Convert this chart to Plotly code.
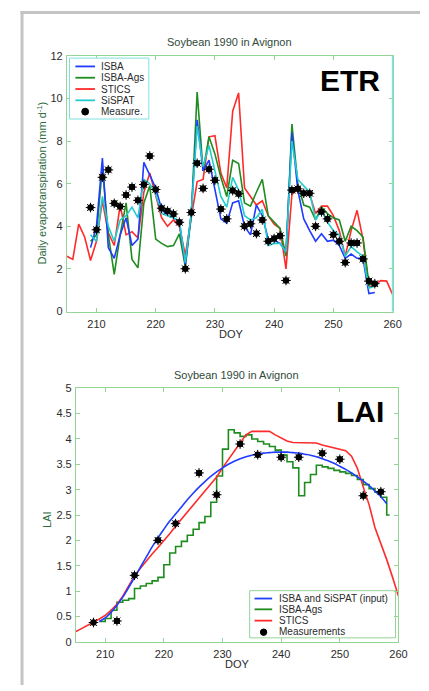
import plotly.graph_objects as go

# ---------------- ETR data ----------------
etr_model_days = list(range(209, 258))
etr_isba = [3.0, 4.0, 7.2, 3.0, 2.5, 3.6, 4.4, 3.1, 3.4, 7.0, 6.4, 5.8, 4.8, 4.5, 4.4, 4.2, 2.2, 4.6,
            9.0, 6.6, 7.1, 5.7, 4.35, 4.15, 5.1, 5.2, 4.0, 3.6, 5.0, 4.5, 3.4, 3.35, 3.2, 2.8,
            8.4, 5.7, 4.35, 3.8, 3.3, 3.65, 3.3, 3.35, 3.1, 2.5, 2.7, 2.5, 2.5, 0.85, 0.9]
etr_isba_ags = [3.3, 3.6, 6.8, 3.6, 1.75, 3.6, 5.1, 2.45, 2.05, 5.1, 5.9, 3.4, 3.2, 3.05, 3.1, 3.65, 2.1, 4.5,
                10.3, 6.6, 8.2, 7.4, 6.3, 5.4, 7.1, 6.95, 5.1, 4.95, 5.6, 6.2, 4.5, 4.2, 3.9, 2.6,
                8.8, 6.0, 5.0, 4.9, 4.3, 4.9, 4.6, 4.4, 4.3, 3.3, 4.0, 3.8, 3.5, 1.3, 1.2]
etr_sispat = [3.6, 3.3, 5.4, 4.0, 3.3, 4.3, 4.5, 4.9, 4.4, 6.2, 6.0, 5.5, 4.6, 4.5, 4.4, 4.25, 2.3, 4.6,
              8.7, 6.8, 7.8, 6.6, 5.4, 4.9, 6.3, 5.7, 4.5, 4.3, 4.4, 4.8, 3.1, 3.2, 3.2, 2.8,
              8.0, 6.2, 5.9, 5.6, 4.3, 4.75, 4.2, 3.8, 3.6, 2.6, 3.05, 2.8, 2.6, 1.1, 1.2]
etr_stics_days = list(range(205, 261))
etr_stics = [2.6, 2.45, 4.1, 3.5, 2.4, 3.3, 5.2, 3.7, 3.1, 5.0, 3.6, 3.75, 3.45, 5.6, 6.5, 5.5, 4.4, 4.0,
             4.3, 4.0, 2.65, 4.4, 6.1, 6.2, 8.2, 8.25, 6.5, 5.8, 9.4, 10.26, 5.8, 5.4, 5.0, 5.2,
             4.5, 4.1, 3.9, 2.0, 5.5, 5.75, 5.6, 5.5, 4.6, 4.95, 4.95, 4.5, 3.8, 2.6, 3.8, 4.75,
             3.4, 1.15, 1.25, 1.45, 1.43, 0.8]
etr_meas_days = list(range(209, 258))
etr_meas = [4.88, 3.84, 6.3, 6.65, 5.08, 4.93, 5.47, 5.84, 5.22, 5.96, 7.3, 5.73, 4.85, 4.72, 4.58, 4.19,
            2.01, 4.65, 6.96, 5.78, 6.68, 6.16, 4.81, 4.35, 5.68, 5.53, 4.0, 4.12, 3.66, 4.3, 3.3,
            3.43, 3.56, 1.46, 5.7, 5.76, 5.55, 5.55, 4.0, 4.68, 4.35, 3.61, 3.3, 2.3, 3.22, 3.22,
            2.47, 1.43, 1.31]

# ---------------- LAI data ----------------
lai_blue_days = list(range(209, 259))
lai_blue = [0.40, 0.47, 0.58, 0.72, 0.88, 1.07, 1.27, 1.47, 1.67, 1.87, 2.05, 2.22, 2.38, 2.52, 2.66,
            2.80, 2.93, 3.05, 3.16, 3.26, 3.35, 3.43, 3.50, 3.56, 3.61, 3.65, 3.68, 3.70, 3.72, 3.73,
            3.74, 3.74, 3.74, 3.73, 3.72, 3.70, 3.68, 3.65, 3.61, 3.57, 3.52, 3.46, 3.40, 3.33, 3.25,
            3.17, 3.08, 2.97, 2.86, 2.72]
lai_green_days = list(range(209, 259)) + [258.5]
lai_green = [0.40, 0.46, 0.62, 0.78, 0.82, 0.85, 1.05, 1.10, 1.15, 1.20, 1.27, 1.52, 1.75, 1.88, 1.98,
             2.10, 2.22, 2.35, 2.47, 2.75, 3.27, 3.80, 4.18, 4.12, 4.05, 4.08, 4.00, 3.95, 3.90, 3.85,
             3.78, 3.68, 3.55, 3.43, 2.88, 3.14, 3.30, 3.48, 3.45, 3.42, 3.38, 3.35, 3.32, 3.28, 3.20,
             3.10, 3.02, 2.95, 2.85, 2.50, 2.50]
lai_red_days = list(range(205, 261))
lai_red = [0.20, 0.26, 0.32, 0.38, 0.45, 0.52, 0.62, 0.74, 0.90, 1.10, 1.30, 1.45, 1.60, 1.73, 1.86,
           1.99, 2.13, 2.28, 2.42, 2.55, 2.68, 2.82, 2.96, 3.10, 3.25, 3.43, 3.60, 3.76, 3.92, 4.08,
           4.15, 4.15, 4.15, 4.15, 4.08, 4.02, 3.96, 3.93, 3.93, 3.93, 3.93, 3.92, 3.88, 3.85, 3.82,
           3.80, 3.77, 3.66, 3.42, 3.05, 2.70, 2.25, 1.95, 1.62, 1.27, 0.90]
lai_meas_days = [208, 212, 215, 219, 222, 226, 229, 233, 236, 240, 243, 247, 250, 254, 257]
lai_meas = [0.38, 0.41, 1.31, 2.0, 2.33, 3.33, 2.9, 3.9, 3.69, 3.64, 3.64, 3.72, 3.6, 2.88, 2.96]

etr_xticks = [210, 220, 230, 240, 250, 260]
etr_yticks = [0, 2, 4, 6, 8, 10, 12]
lai_xticks = [210, 220, 230, 240, 250, 260]
lai_yticks = [0, 0.5, 1, 1.5, 2, 2.5, 3, 3.5, 4, 4.5, 5]
lai_ytext = ["0", "0.5", "1", "1.5", "2", "2.5", "3", "3.5", "4", "4.5", "5"]

W, H = 429, 691
def fx(px):
    return px / W
def fy(py):
    return 1 - py / H

BLUE = "#1f3cff"
GREEN = "#1e8c1e"
RED = "#ff2a2a"
CYAN = "#22cccc"
AXG = "#94d494"
AXC = "#7fe0e0"
TXT = "#2b2b2b"
FONT = "Liberation Sans, Arial, sans-serif"
LW = 1.6

fig = go.Figure()

def add_meas(x, y, xa, ya):
    fig.add_trace(go.Scatter(x=x, y=y, mode="markers", xaxis=xa, yaxis=ya, showlegend=False,
                             marker=dict(symbol="circle", size=6.5, color="black")))
    fig.add_trace(go.Scatter(x=x, y=y, mode="markers", xaxis=xa, yaxis=ya, showlegend=False,
                             marker=dict(symbol="asterisk-open", size=8, color="black",
                                         line=dict(width=1, color="black"))))

# ETR traces
fig.add_trace(go.Scatter(x=etr_stics_days, y=etr_stics, mode="lines", line=dict(color=RED, width=LW),
                         xaxis="x", yaxis="y", showlegend=False))
fig.add_trace(go.Scatter(x=etr_model_days, y=etr_isba_ags, mode="lines", line=dict(color=GREEN, width=LW),
                         xaxis="x", yaxis="y", showlegend=False))
fig.add_trace(go.Scatter(x=etr_model_days, y=etr_isba, mode="lines", line=dict(color=BLUE, width=LW),
                         xaxis="x", yaxis="y", showlegend=False))
fig.add_trace(go.Scatter(x=etr_model_days, y=etr_sispat, mode="lines", line=dict(color=CYAN, width=LW),
                         xaxis="x", yaxis="y", showlegend=False))
add_meas(etr_meas_days, etr_meas, "x", "y")

# LAI traces
fig.add_trace(go.Scatter(x=lai_green_days, y=lai_green, mode="lines", line=dict(color=GREEN, width=LW, shape="hv"),
                         xaxis="x2", yaxis="y2", showlegend=False))
fig.add_trace(go.Scatter(x=lai_red_days, y=lai_red, mode="lines", line=dict(color=RED, width=LW),
                         xaxis="x2", yaxis="y2", showlegend=False))
fig.add_trace(go.Scatter(x=lai_blue_days, y=lai_blue, mode="lines", line=dict(color=BLUE, width=LW, shape="spline"),
                         xaxis="x2", yaxis="y2", showlegend=False))
add_meas(lai_meas_days, lai_meas, "x2", "y2")

axis_common = dict(showgrid=False, zeroline=False, ticks="inside", ticklen=4, showline=True,
                   mirror="ticks", linecolor=AXG, tickcolor=AXG, linewidth=1,
                   tickfont=dict(family=FONT, size=11, color=TXT))

fig.update_layout(
    width=W, height=H, margin=dict(l=0, r=0, t=0, b=0),
    paper_bgcolor="white", plot_bgcolor="white", showlegend=False,
    font=dict(family=FONT),
    xaxis=dict(domain=[fx(68.3), fx(401)], range=[205, 260], tickvals=etr_xticks, anchor="y",
               ticklabelstandoff=2, **axis_common),
    yaxis=dict(domain=[fy(311), fy(50.7)], range=[0, 12], tickvals=etr_yticks, anchor="x",
               ticklabelstandoff=1, **axis_common),
    xaxis2=dict(domain=[fx(77.5), fx(407)], range=[205, 260], tickvals=lai_xticks, anchor="y2",
                ticklabelstandoff=2, **axis_common),
    yaxis2=dict(domain=[fy(647), fy(389)], range=[0, 5], tickvals=lai_yticks, ticktext=lai_ytext,
                anchor="x2", ticklabelstandoff=1, **axis_common),
)

shapes = []
# outer gray frame (top and left)
shapes.append(dict(type="line", xref="paper", yref="paper", x0=fx(21), x1=1, y0=fy(6.5), y1=fy(6.5),
                   line=dict(color="#c4c4c4", width=3)))
shapes.append(dict(type="line", xref="paper", yref="paper", x0=fx(22.5), x1=fx(22.5), y0=0, y1=fy(5),
                   line=dict(color="#c4c4c4", width=3)))
# cyan right axis of ETR
shapes.append(dict(type="line", xref="x domain", yref="y domain", x0=1, x1=1, y0=0, y1=1,
                   line=dict(color=AXC, width=1.5)))

# ETR legend
shapes.append(dict(type="rect", xref="paper", yref="paper", x0=fx(71), x1=fx(152), y0=fy(115), y1=fy(53),
                   line=dict(color=AXC, width=1), fillcolor="white"))
etr_leg = [("ISBA", BLUE, 61.5), ("ISBA-Ags", GREEN, 73), ("STICS", RED, 84.5), ("SiSPAT", CYAN, 96)]
annotations = []
for name, col, yy in etr_leg:
    shapes.append(dict(type="line", xref="paper", yref="paper", x0=fx(77), x1=fx(97), y0=fy(yy), y1=fy(yy),
                       line=dict(color=col, width=1.8)))
    annotations.append(dict(text=name, x=fx(101), y=fy(yy), xref="paper", yref="paper", xanchor="left",
                            yanchor="middle", showarrow=False, font=dict(family=FONT, size=10, color=TXT)))
shapes.append(dict(type="circle", xref="paper", yref="paper", x0=fx(83.5), x1=fx(90.5), y0=fy(111), y1=fy(104),
                   line=dict(color="black", width=1), fillcolor="black"))
annotations.append(dict(text="Measure.", x=fx(101), y=fy(107.5), xref="paper", yref="paper", xanchor="left",
                        yanchor="middle", showarrow=False, font=dict(family=FONT, size=10, color=TXT)))

# LAI legend
shapes.append(dict(type="rect", xref="paper", yref="paper", x0=fx(255), x1=fx(404), y0=fy(643), y1=fy(595),
                   line=dict(color=AXG, width=1), fillcolor="white", layer="below"))
lai_leg = [("ISBA and SiSPAT (input)", BLUE, 603), ("ISBA-Ags", GREEN, 614), ("STICS", RED, 625.5)]
for name, col, yy in lai_leg:
    shapes.append(dict(type="line", xref="paper", yref="paper", x0=fx(260), x1=fx(278), y0=fy(yy), y1=fy(yy),
                       line=dict(color=col, width=1.8)))
    annotations.append(dict(text=name, x=fx(283), y=fy(yy), xref="paper", yref="paper", xanchor="left",
                            yanchor="middle", showarrow=False, font=dict(family=FONT, size=10, color=TXT)))
shapes.append(dict(type="circle", xref="paper", yref="paper", x0=fx(266), x1=fx(272.5), y0=fy(640.5), y1=fy(634),
                   line=dict(color="black", width=1), fillcolor="black"))
annotations.append(dict(text="Measurements", x=fx(283), y=fy(637), xref="paper", yref="paper", xanchor="left",
                        yanchor="middle", showarrow=False, font=dict(family=FONT, size=10, color=TXT)))

# Titles and labels
TITLE_COL = "#2f4a3a"
annotations += [
    dict(text="Soybean 1990 in Avignon", x=fx(234), y=fy(37), xref="paper", yref="paper", showarrow=False,
         xanchor="center", yanchor="middle", font=dict(family=FONT, size=11, color=TITLE_COL)),
    dict(text="Soybean 1990 in Avignon", x=fx(242), y=fy(376), xref="paper", yref="paper", showarrow=False,
         xanchor="center", yanchor="middle", font=dict(family=FONT, size=11, color=TITLE_COL)),
    dict(text="DOY", x=fx(236), y=fy(334), xref="paper", yref="paper", showarrow=False,
         xanchor="center", yanchor="middle", font=dict(family=FONT, size=11, color=TXT)),
    dict(text="DOY", x=fx(243), y=fy(670), xref="paper", yref="paper", showarrow=False,
         xanchor="center", yanchor="middle", font=dict(family=FONT, size=11, color=TXT)),
    dict(text="Daily evapotranspiration (mm d<sup>-1</sup>)", x=fx(42.5), y=fy(180), xref="paper", yref="paper",
         showarrow=False, textangle=-90, xanchor="center", yanchor="middle",
         font=dict(family=FONT, size=11, color="#2e6a3c")),
    dict(text="LAI", x=fx(48), y=fy(522), xref="paper", yref="paper", showarrow=False, textangle=-90,
         xanchor="center", yanchor="middle", font=dict(family=FONT, size=11, color="#2e6a3c")),
    dict(text="<b>ETR</b>", x=fx(358), y=fy(76), xref="paper", yref="paper", showarrow=False,
         xanchor="center", yanchor="middle", font=dict(family=FONT, size=30, color="black")),
    dict(text="<b>LAI</b>", x=fx(368), y=fy(413), xref="paper", yref="paper", showarrow=False,
         xanchor="center", yanchor="middle", font=dict(family=FONT, size=30, color="black")),
]

fig.update_layout(shapes=shapes, annotations=annotations)
fig.write_html("out.html")
